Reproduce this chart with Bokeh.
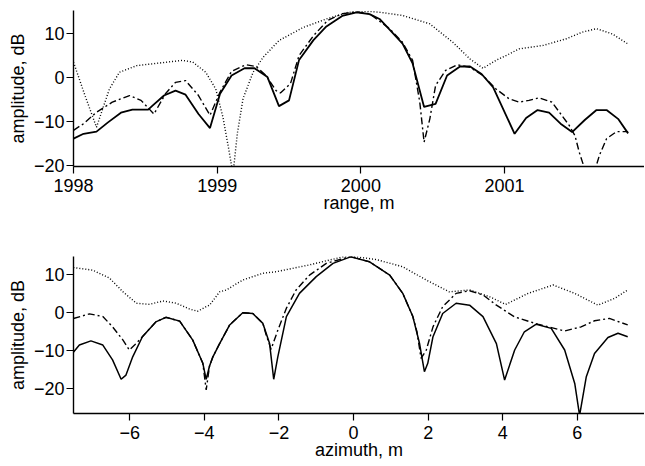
from bokeh.plotting import figure
from bokeh.layouts import column
from bokeh.models import Range1d, FixedTicker
from bokeh.embed import file_html
from bokeh.resources import INLINE

# ---------------- data: range cut ----------------
range_solid_x = [1998.00, 1998.07, 1998.16, 1998.24, 1998.33, 1998.41, 1998.52, 1998.55, 1998.63, 1998.71,
                 1998.78, 1998.87, 1998.95, 1999.02, 1999.10, 1999.19, 1999.26, 1999.35, 1999.43, 1999.50,
                 1999.57, 1999.67, 1999.76, 1999.87, 1999.97, 2000.06, 2000.13, 2000.20, 2000.29, 2000.36,
                 2000.44, 2000.52, 2000.60, 2000.69, 2000.76, 2000.84, 2000.92, 2001.07, 2001.15, 2001.23,
                 2001.31, 2001.39, 2001.47, 2001.56, 2001.64, 2001.71, 2001.79, 2001.86]
range_solid_y = [-13.9, -12.8, -12.3, -10.2, -8.0, -7.3, -7.3, -6.4, -4.1, -3.0,
                 -3.9, -8.3, -11.5, -3.7, 0.45, 2.1, 2.1, 0.1, -6.5, -5.2,
                 4.0, 8.5, 11.6, 14.0, 14.8, 14.4, 13.3, 10.9, 7.7, 3.2,
                 -6.7, -6.0, 0.45, 2.5, 2.5, 0.8, -2.2, -12.8, -9.2, -7.4,
                 -8.0, -10.5, -12.4, -9.6, -7.4, -7.4, -9.4, -12.7]

range_dashdot_x = [1998.00, 1998.07, 1998.16, 1998.27, 1998.39, 1998.47, 1998.56, 1998.64, 1998.71, 1998.78,
                   1998.87, 1998.95, 1999.02, 1999.10, 1999.20, 1999.27, 1999.34, 1999.41, 1999.44, 1999.51,
                   1999.57, 1999.67, 1999.77, 1999.87, 1999.97, 2000.06, 2000.20, 2000.29, 2000.36, 2000.41,
                   2000.44, 2000.48, 2000.52, 2000.59, 2000.67, 2000.76, 2000.85, 2000.94, 2001.03, 2001.10,
                   2001.17, 2001.24, 2001.33, 2001.45, 2001.49, 2001.52, 2001.56, 2001.63, 2001.66, 2001.71,
                   2001.78, 2001.86]
range_dashdot_y = [-12.0, -10.5, -7.9, -5.6, -4.1, -5.2, -8.3, -3.7, -1.1, -0.7,
                   -4.1, -8.6, -3.3, 1.4, 2.9, 2.5, 0.45, -3.0, -3.5, -1.4,
                   5.0, 9.5, 13.0, 14.5, 14.9, 14.5, 11.1, 8.0, 3.9, -5.6,
                   -14.7, -9.4, -1.8, 1.6, 2.9, 2.3, 0.45, -2.6, -4.8, -5.6,
                   -5.2, -4.6, -5.6, -10.9, -13.2, -17.0, -21.0, -21.0, -17.7, -13.9,
                   -12.3, -12.3]

range_dotted_x = [1998.00, 1998.08, 1998.16, 1998.25, 1998.32, 1998.44, 1998.60, 1998.76, 1998.83, 1998.92,
                  1998.99, 1999.04, 1999.08, 1999.11, 1999.14, 1999.18, 1999.25, 1999.32, 1999.43, 1999.60,
                  1999.76, 1999.91, 2000.06, 2000.14, 2000.29, 2000.48, 2000.64, 2000.76, 2000.85, 2000.94,
                  2001.03, 2001.10, 2001.27, 2001.43, 2001.54, 2001.64, 2001.75, 2001.86]
range_dotted_y = [3.5, -4.1, -11.3, -2.6, 1.2, 2.7, 3.3, 3.9, 3.5, 1.2,
                  -2.6, -9.0, -16.2, -22.0, -12.8, -4.8, 1.2, 4.6, 8.4, 11.4,
                  13.3, 14.8, 15.0, 14.8, 14.1, 12.2, 8.0, 4.2, 2.1, 3.9,
                  5.3, 6.5, 7.3, 8.8, 10.3, 11.1, 9.9, 7.6]

# ---------------- data: azimuth cut ----------------
az_solid_x = [-7.51, -7.35, -7.04, -6.72, -6.46, -6.23, -6.10, -5.92, -5.66, -5.30,
              -5.03, -4.66, -4.31, -4.04, -3.95, -3.86, -3.77, -3.59, -3.32, -2.97,
              -2.70, -2.43, -2.25, -2.14, -2.03, -1.80, -1.45, -1.00, -0.55, -0.08,
              0.43, 0.97, 1.32, 1.59, 1.77, 1.90, 1.99, 2.13, 2.39, 2.75,
              3.11, 3.47, 3.83, 4.05, 4.32, 4.58, 4.90, 5.30, 5.66, 5.93,
              6.06, 6.24, 6.46, 6.82, 7.09, 7.35]
az_solid_y = [-10.4, -8.5, -7.4, -8.5, -12.4, -17.5, -16.4, -11.6, -6.3, -2.4,
              -1.2, -2.2, -7.2, -13.3, -17.5, -14.0, -11.6, -8.1, -3.2, 0.0,
              -0.2, -2.8, -8.1, -17.5, -11.6, -1.0, 5.1, 9.5, 13.0, 14.7,
              13.4, 9.9, 5.1, -1.0, -8.1, -15.5, -13.3, -6.3, -0.2, 2.5,
              2.0, -1.0, -8.1, -17.7, -9.8, -5.0, -3.0, -4.1, -9.8, -18.6,
              -27.0, -16.8, -10.7, -6.5, -5.4, -6.3]

az_dashdot_x = [-7.51, -7.08, -6.72, -6.46, -6.18, -6.01, -5.87, -5.66, -5.30, -5.03,
                -4.66, -4.31, -4.04, -3.95, -3.86, -3.77, -3.59, -3.32, -2.97, -2.70,
                -2.43, -2.34, -2.21, -2.03, -1.80, -1.54, -1.18, -0.73, -0.08, 0.43,
                0.97, 1.32, 1.59, 1.70, 1.81, 1.95, 2.13, 2.39, 2.75, 3.11,
                3.47, 3.83, 4.32, 4.94, 5.66, 6.10, 6.46, 6.86, 7.35]
az_dashdot_y = [-1.5, -0.3, -1.0, -3.7, -7.2, -9.8, -8.5, -6.3, -2.4, -1.2,
                -2.2, -7.2, -13.3, -20.3, -14.0, -11.6, -8.1, -3.2, 0.0, -0.2,
                -2.8, -5.9, -9.6, -4.6, 1.2, 6.0, 9.9, 13.0, 14.8, 13.4,
                9.9, 5.1, -1.0, -5.0, -12.0, -9.8, -3.7, 1.6, 5.1, 5.8,
                4.7, 2.0, -1.1, -3.0, -4.8, -3.7, -2.1, -1.5, -3.2]

az_dotted_x = [-7.51, -6.99, -6.54, -6.18, -5.82, -5.47, -5.11, -4.75, -4.40, -4.18,
               -3.95, -3.86, -3.59, -3.41, -2.97, -2.43, -2.07, -1.18, -0.46, -0.15,
               0.61, 1.32, 1.95, 2.57, 3.11, 3.65, 4.08, 4.68, 5.35, 5.93,
               6.55, 7.00, 7.35]
az_dotted_y = [11.9, 11.2, 9.1, 5.5, 2.5, 2.2, 3.1, 2.5, 1.0, 0.4,
               1.6, 2.0, 5.5, 6.0, 8.6, 10.4, 10.8, 12.6, 14.3, 15.0,
               14.0, 12.1, 8.6, 5.5, 6.0, 4.2, 2.2, 5.1, 7.3, 5.1,
               2.0, 3.8, 6.0]

# ---------------- ticks and labels ----------------
range_ticks = [1998, 1999, 2000, 2001]
range_tick_labels = ["1998", "1999", "2000", "2001"]
az_ticks = [-6, -4, -2, 0, 2, 4, 6]
az_tick_labels = ["\u22126", "\u22124", "\u22122", "0", "2", "4", "6"]
amp_ticks = [-20, -10, 0, 10]
amp_tick_labels = ["\u221220", "\u221210", "0", "10"]
range_axis_title = "range, m"
az_axis_title = "azimuth, m"
amp_axis_title = "amplitude, dB"

FONT = "Liberation Sans"


def style(p, xticks, xlabels, xtitle):
    p.outline_line_color = None
    p.xgrid.grid_line_color = None
    p.ygrid.grid_line_color = None
    p.background_fill_color = "white"
    p.border_fill_color = "white"
    for ax in (p.xaxis[0], p.yaxis[0]):
        ax.axis_line_color = "black"
        ax.axis_line_width = 1.4
        ax.major_tick_line_color = "black"
        ax.major_tick_line_width = 1.2
        ax.major_tick_in = 0
        ax.major_tick_out = 7
        ax.minor_tick_line_color = None
        ax.major_label_text_font = FONT
        ax.major_label_text_font_size = "18px"
        ax.major_label_text_color = "black"
        ax.axis_label_text_font = FONT
        ax.axis_label_text_font_size = "18px"
        ax.axis_label_text_font_style = "normal"
        ax.axis_label_text_color = "black"
    xa = p.xaxis[0]
    xa.ticker = FixedTicker(ticks=xticks)
    xa.major_label_overrides = dict(zip(xticks, xlabels))
    xa.axis_label = xtitle
    xa.major_label_standoff = 5
    xa.axis_label_standoff = -2
    ya = p.yaxis[0]
    ya.ticker = FixedTicker(ticks=amp_ticks)
    ya.major_label_overrides = dict(zip(amp_ticks, amp_tick_labels))
    ya.axis_label = amp_axis_title
    ya.major_label_standoff = 2
    ya.axis_label_standoff = 3


def draw(p, sx, sy, dx, dy, ox, oy, w):
    p.line(ox, oy, line_color="black", line_width=1.4, line_dash="1 2")
    p.line(dx, dy, line_color="black", line_width=1.4, line_dash="7 3 2 3")
    p.line(sx, sy, line_color="black", line_width=w)


p1 = figure(frame_width=571, frame_height=156,
            x_range=Range1d(1998.0, 2001.974), y_range=Range1d(-20.23, 15.23),
            output_backend="svg", toolbar_location=None,
            min_border_left=73, min_border_right=0, min_border_top=10, min_border_bottom=60)
draw(p1, range_solid_x, range_solid_y, range_dashdot_x, range_dashdot_y,
     range_dotted_x, range_dotted_y, 1.8)
style(p1, range_ticks, range_tick_labels, range_axis_title)

p2 = figure(frame_width=571, frame_height=157,
            x_range=Range1d(-7.507, 7.80), y_range=Range1d(-26.5, 14.8),
            output_backend="svg", toolbar_location=None,
            min_border_left=73, min_border_right=0, min_border_top=30, min_border_bottom=0)
draw(p2, az_solid_x, az_solid_y, az_dashdot_x, az_dashdot_y,
     az_dotted_x, az_dotted_y, 1.5)
style(p2, az_ticks, az_tick_labels, az_axis_title)

layout = column(p1, p2, spacing=0)
open("out.html", "w").write(file_html(layout, INLINE))
